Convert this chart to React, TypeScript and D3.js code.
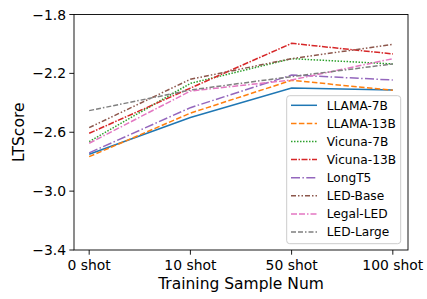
import * as d3 from 'd3';

const shots = ['0 shot', '10 shot', '50 shot', '100 shot'];
const yTicks = [-1.8, -2.2, -2.6, -3.0, -3.4];

const llama7b = [-2.75, -2.5, -2.3, -2.313];
const llama13b = [-2.766, -2.47, -2.247, -2.315];
const vicuna7b = [-2.664, -2.268, -2.1, -2.136];
const vicuna13b = [-2.607, -2.3, -1.996, -2.068];
const longt5 = [-2.74, -2.433, -2.211, -2.245];
const ledBase = [-2.569, -2.24, -2.1, -2.003];
const legalLed = [-2.675, -2.32, -2.245, -2.1];
const ledLarge = [-2.453, -2.313, -2.222, -2.136];

const series = [
  { name: 'LLAMA-7B', values: llama7b, color: '#1f77b4', dash: null },
  { name: 'LLAMA-13B', values: llama13b, color: '#ff7f0e', dash: '5.5,2.4' },
  { name: 'Vicuna-7B', values: vicuna7b, color: '#2ca02c', dash: '1.5,1.5' },
  { name: 'Vicuna-13B', values: vicuna13b, color: '#d62728', dash: '6,1.5,1.5,1.5' },
  { name: 'LongT5', values: longt5, color: '#9467bd', dash: '9,2.4,1.5,2.4' },
  { name: 'LED-Base', values: ledBase, color: '#8c564b', dash: '5,2,1.5,2,1.5,2' },
  { name: 'Legal-LED', values: legalLed, color: '#e377c2', dash: '6,2,6,2,1.5,2' },
  { name: 'LED-Large', values: ledLarge, color: '#7f7f7f', dash: '5,2,5,2,1.5,2' },
];

const W = 427;
const H = 299;
const margin = { top: 14.5, right: 19, bottom: 49, left: 74 };
const font = '"DejaVu Sans", sans-serif';

export default function App() {
  const x = d3.scaleLinear().domain([-0.15, 3.15]).range([margin.left, W - margin.right]);
  const y = d3.scaleLinear().domain([-3.4, -1.8]).range([H - margin.bottom, margin.top]);
  const line = d3.line<number>().x((_, i) => x(i)).y(d => y(d));

  const x0 = margin.left, x1 = W - margin.right, y0 = margin.top, y1 = H - margin.bottom;
  const leg = { x: 286.7, y: 95.7, w: 114, h: 148, row: 18.1, first: 105.3 };

  return (
    <svg width={W} height={H} style={{ position: 'absolute', left: 0, top: 0, background: '#fff' }} fontFamily={font}>
      {series.map(s => (
        <path key={s.name} d={line(s.values) || ''} fill="none" stroke={s.color} strokeWidth={1.5}
          strokeDasharray={s.dash || undefined} />
      ))}

      <rect x={x0} y={y0} width={x1 - x0} height={y1 - y0} fill="none" stroke="#000" strokeWidth={0.9} />

      {yTicks.map(t => (
        <g key={t}>
          <line x1={x0 - 4.7} x2={x0} y1={y(t)} y2={y(t)} stroke="#000" strokeWidth={0.9} />
          <text x={x0 - 8} y={y(t)} dy="0.36em" textAnchor="end" fontSize={13.9}>
            {'\u2212' + Math.abs(t).toFixed(1)}
          </text>
        </g>
      ))}

      {shots.map((s, i) => (
        <g key={s}>
          <line x1={x(i)} x2={x(i)} y1={y1} y2={y1 + 4.7} stroke="#000" strokeWidth={0.9} />
          <text x={x(i)} y={269.5} textAnchor="middle" fontSize={13.9}>{s}</text>
        </g>
      ))}

      <text x={(x0 + x1) / 2} y={288.5} textAnchor="middle" fontSize={15.5}>Training Sample Num</text>
      <text transform={`translate(23.5,${(y0 + y1) / 2}) rotate(-90)`} textAnchor="middle" fontSize={15.5}>LTScore</text>

      <rect x={leg.x} y={leg.y} width={leg.w} height={leg.h} rx={3} fill="#fff" fillOpacity={0.8}
        stroke="#cccccc" strokeWidth={1} />
      {series.map((s, i) => {
        const ly = leg.first + i * leg.row;
        return (
          <g key={s.name}>
            <line x1={291} x2={317} y1={ly} y2={ly} stroke={s.color} strokeWidth={1.5}
              strokeDasharray={s.dash || undefined} />
            <text x={326.7} y={ly} dy="0.36em" fontSize={12.2}>{s.name}</text>
          </g>
        );
      })}
    </svg>
  );
}
